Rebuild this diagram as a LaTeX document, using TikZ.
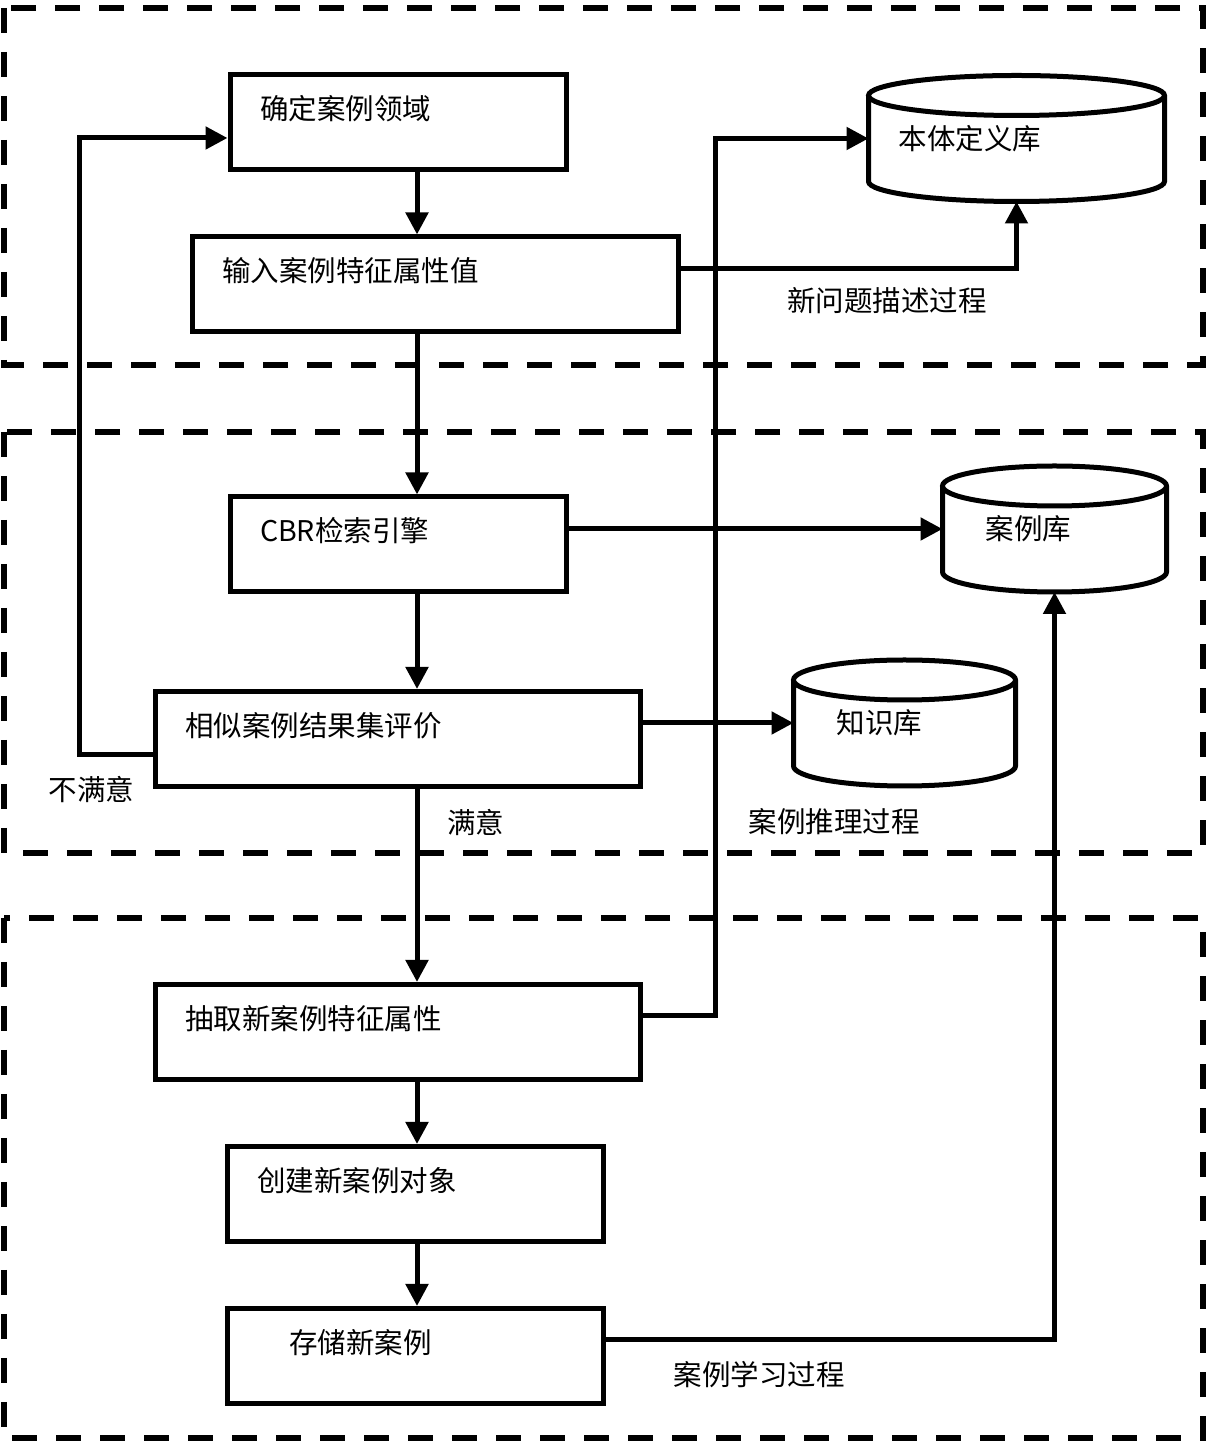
\documentclass[tikz,border=0pt]{standalone}
\usepackage{fontspec}
\setmainfont{Noto Sans CJK SC}
\usetikzlibrary{arrows.meta, calc}
\tikzset{
  process/.style={rectangle, draw=black, line width=5pt, inner xsep=30pt, inner ysep=0pt,
    text height=45pt, text depth=50pt, align=left, text width=#1},
  database/.style 2 args={rectangle, inner xsep=#2, inner ysep=0pt, outer sep=0pt,
    minimum height=126pt, align=left, text width=#1},
  flow/.style={line width=5pt, -{Triangle[length=22pt, width=22pt]}},
  link/.style={line width=5pt},
  region/.style={line width=6pt, dash pattern=on 25pt off 19pt},
  note/.style={inner sep=0pt}
}
% cylinder round a database node, #2 = half width
\newcommand{\drawdb}[2]{%
  \draw[link] ($(#1.north)+(0,-20)$) ellipse [x radius=#2, y radius=20]
    ($(#1.north west)+(0,-20)$) -- ($(#1.south west)+(0,20)$)
    arc [start angle=180, end angle=360, x radius=#2, y radius=20]
    -- ($(#1.north east)+(0,-20)$);
}

\begin{document}
\begin{tikzpicture}[x=1pt, y=1pt, font=\fontsize{28.5}{34}\selectfont]
      \useasboundingbox (0,0) rectangle (1211,1444);

      % three stages
      \draw[region] (4,1436) rectangle (1203,1079);
      \draw[region] (4,1012) rectangle (1203,591);
      \draw[region] (4,526) rectangle (1203,6);

      \coordinate (spine) at (417,0);
      \node[process=276pt](confirm) at (398,1322){确定案例领域};
      \node[process=426pt](input) at (435,1159.5){输入案例特征属性值};
      \node[process=276pt](cbr) at (398,899.5){CBR检索引擎};
      \node[process=425pt](similar) at (397.5,705){相似案例结果集评价};
      \node[process=425pt](extract) at (397.5,412){抽取新案例特征属性};
      \node[process=316pt](create) at (415,250){创建新案例对象};
      \node[process=316pt](store) at (415,88){\hspace*{32pt}存储新案例};

      \node[database={236pt}{30pt}](onto) at (1016.5,1305.5){本体定义库};
      \node[database={138pt}{43pt}](case) at (1054.5,915){案例库};
      \node[database={136pt}{43pt}](know) at (904.5,721){知识库};
      \drawdb{onto}{148}
      \drawdb{case}{112}
      \drawdb{know}{111}

      \draw[flow](confirm.south -| spine)--(input.north -| spine);
      \draw[flow](input.south -| spine)--(cbr.north -| spine);
      \draw[flow](cbr.south -| spine)--(similar.north -| spine);
      \draw[flow](similar.south -| spine)--(extract.north -| spine);
      \draw[flow](extract.south -| spine)--(create.north -| spine);
      \draw[flow](create.south -| spine)--(store.north -| spine);

      \draw[flow]([yshift=-16pt]similar.west)--++(-73,0)|-([yshift=-16pt]confirm.west);
      \draw[flow]([yshift=16pt]input.east)-|(onto.south);
      \draw[flow]([yshift=16pt]extract.east)--++(73,0)|-(onto.west);
      \draw[flow](cbr.east |- case.west)--(case.west);
      \draw[flow](similar.east |- know.west)--(know.west);
      \draw[flow]([yshift=16pt]store.east)-|(case.south);

      \node[note](newdesc) at (887,1143){新问题描述过程};
      \node[note](unsat) at (91.5,654){不满意};
      \node[note](sat) at (475.5,622){满意};
      \node[note](reason) at (834,622){案例推理过程};
      \node[note](learn) at (759,69){案例学习过程};
    \end{tikzpicture}
\end{document}
